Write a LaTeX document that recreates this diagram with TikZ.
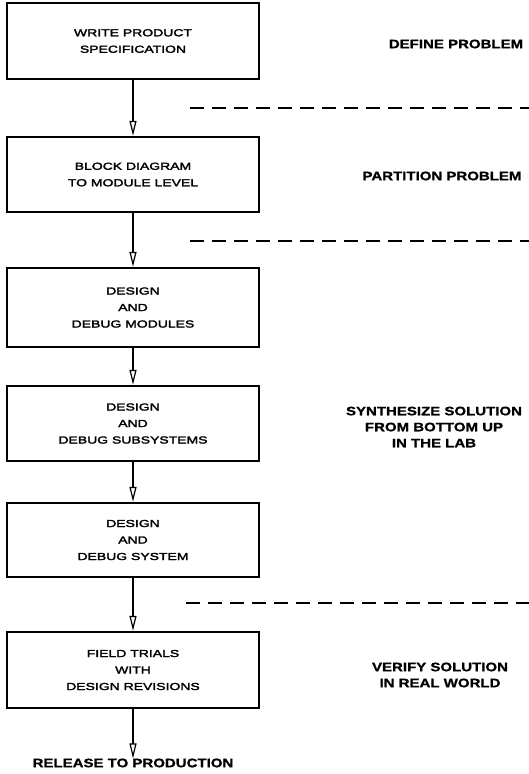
\documentclass[tikz,border=0pt]{standalone}
\usepackage{fontspec}
\setmainfont{Liberation Sans}
% wide lettering used on the chart
\newfontfamily\stepfont[FakeStretch=1.37, FakeBold=2.5]{Liberation Sans}
\newfontfamily\phasefont[FakeStretch=1.22, FakeBold=1]{Liberation Sans Bold}
\usetikzlibrary{arrows.meta}
\begin{document}
\begin{tikzpicture}[x=1pt,y=-1pt,
  stepbox/.style={draw, line width=2.4pt, minimum width=252pt, align=center,
    inner sep=0pt, font=\stepfont\fontsize{10.2}{16.5}\selectfont},
  phase/.style={align=center, font=\phasefont\fontsize{12.3}{16}\selectfont},
  flow/.style={line width=1.2pt, -{Triangle[open, length=15pt, width=7pt, line width=1.2pt]}},
  divider/.style={line width=1.6pt, dash pattern=on 14pt off 8pt}]
\useasboundingbox (0,0) rectangle (529,774);
% process steps
\node[stepbox, minimum height=76pt] (s1) at (133,41) {WRITE PRODUCT\\SPECIFICATION};
\node[stepbox, minimum height=75pt] (s2) at (133,174.5) {BLOCK DIAGRAM\\TO MODULE LEVEL};
\node[stepbox, minimum height=79pt] (s3) at (133,307.5) {DESIGN\\AND\\DEBUG MODULES};
\node[stepbox, minimum height=75pt] (s4) at (133,423.5) {DESIGN\\AND\\DEBUG SUBSYSTEMS};
\node[stepbox, minimum height=74pt] (s5) at (133,540) {DESIGN\\AND\\DEBUG SYSTEM};
\node[stepbox, minimum height=76pt] (s6) at (133,670) {FIELD TRIALS\\WITH\\DESIGN REVISIONS};
\node[phase, inner sep=0pt] (rel) at (133,763) {RELEASE TO PRODUCTION};
% connectors
\draw[flow] (s1) -- (s2);
\draw[flow] (s2) -- (s3);
\draw[flow] (s3) -- (s4);
\draw[flow] (s4) -- (s5);
\draw[flow] (s5) -- (s6);
\draw[flow] (s6) -- (rel);
% phase boundaries
\coordinate (d1a) at (190,108); \coordinate (d1b) at (529,108);
\coordinate (d2a) at (190,241); \coordinate (d2b) at (529,241);
\coordinate (d3a) at (186,603); \coordinate (d3b) at (529,603);
\draw[divider] (d1a) -- (d1b);
\draw[divider] (d2a) -- (d2b);
\draw[divider] (d3a) -- (d3b);
% phase labels
\node[phase] (p1) at (456,44) {DEFINE PROBLEM};
\node[phase] (p2) at (442,176) {PARTITION PROBLEM};
\node[phase] (p3) at (434,427) {SYNTHESIZE SOLUTION\\FROM BOTTOM UP\\IN THE LAB};
\node[phase] (p4) at (440,675) {VERIFY SOLUTION\\IN REAL WORLD};
\end{tikzpicture}
\end{document}
